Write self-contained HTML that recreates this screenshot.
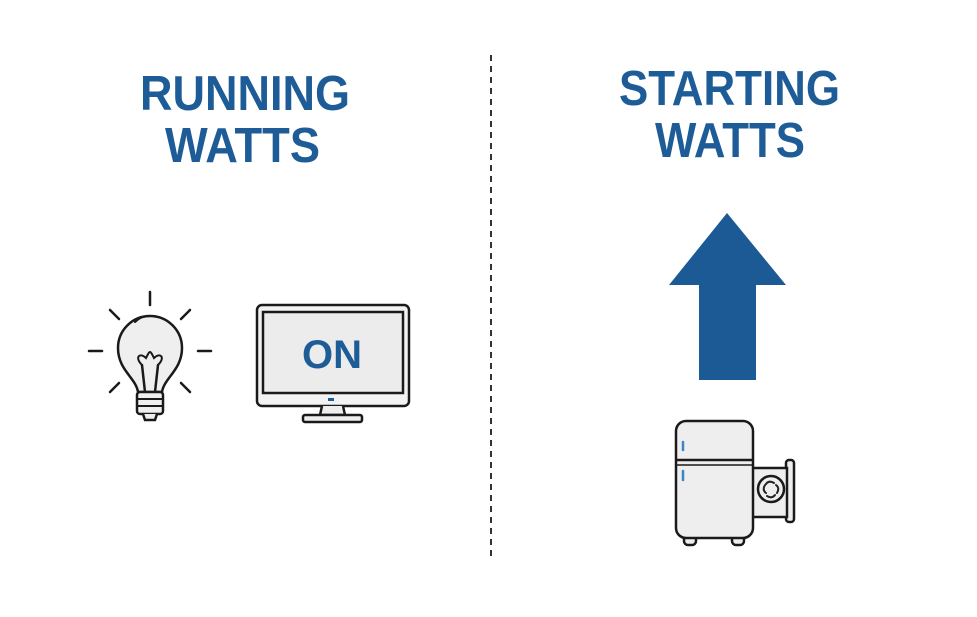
<!DOCTYPE html>
<html><head><style>html,body{margin:0;padding:0;background:#fff;}svg{display:block;}</style></head>
<body>
<svg width="977" height="617" viewBox="0 0 977 617" xmlns="http://www.w3.org/2000/svg">
<rect width="977" height="617" fill="#fff"/>
<g font-family="Liberation Sans, sans-serif" font-weight="bold" fill="#1e5c98" font-size="49">
<text x="140" y="110" textLength="210" lengthAdjust="spacingAndGlyphs">RUNNING</text>
<text x="165" y="162" textLength="155" lengthAdjust="spacingAndGlyphs">WATTS</text>
<text x="619" y="105" textLength="221" lengthAdjust="spacingAndGlyphs">STARTING</text>
<text x="655" y="157" textLength="150" lengthAdjust="spacingAndGlyphs">WATTS</text>
</g>
<line x1="491" y1="55" x2="491" y2="560" stroke="#333" stroke-width="2" stroke-dasharray="6,5"/>
<polygon points="727,213 786,285 756,285 756,380 699,380 699,285 669,285" fill="#1c5a96"/>
<!-- bulb -->
<g stroke="#1a1a1a" stroke-width="2.5" fill="none" stroke-linecap="round">
<line x1="150" y1="292" x2="150" y2="305"/>
<line x1="110" y1="310" x2="119" y2="319"/>
<line x1="190" y1="310" x2="181" y2="319"/>
<line x1="89" y1="351" x2="102" y2="351"/>
<line x1="198" y1="351" x2="211" y2="351"/>
<line x1="110" y1="392" x2="119" y2="383"/>
<line x1="190" y1="392" x2="181" y2="383"/>
<path d="M138,392 C136,378 118,370 118,348 A32,32 0 1 1 182,348 C182,370 164,378 162,392 Z" fill="#efefef"/>
<path d="M145,392 L142,365 M155,392 L158,365"/>
<path d="M142,365 C134,357 140,352 146,358 C150,350 150,350 154,358 C160,352 166,357 158,365" stroke-width="2"/>
<path d="M135,322 A20,20 0 0 1 150,316" stroke-width="2"/>
<rect x="137" y="392" width="26" height="22" rx="3" fill="#efefef"/>
<line x1="137" y1="399" x2="163" y2="399" stroke-width="2"/>
<line x1="137" y1="406" x2="163" y2="406" stroke-width="2"/>
<path d="M143,414 L145,420 L155,420 L157,414" fill="#efefef"/>
</g>
<!-- monitor -->
<g stroke="#1a1a1a" stroke-width="2.5">
<rect x="257" y="305" width="152" height="101" rx="5" fill="#f2f2f2"/>
<rect x="263" y="312" width="140" height="81" fill="#ececec"/>
<path d="M322,406 L320,415 L345,415 L343,406" fill="#eee"/>
<rect x="303" y="415" width="59" height="7" rx="2" fill="#eee"/>
</g>
<rect x="328" y="398" width="6" height="3" fill="#1e5c98"/>
<text x="332" y="368" text-anchor="middle" font-family="Liberation Sans, sans-serif" font-weight="bold" font-size="40" fill="#1e5c98">ON</text>
<!-- fridge -->
<g stroke="#1a1a1a" stroke-width="2.5">
<rect x="684" y="535" width="12" height="10" rx="4" fill="#eee"/>
<rect x="732" y="535" width="12" height="10" rx="4" fill="#eee"/>
<rect x="786" y="460" width="8" height="62" rx="3" fill="#eee"/>
<rect x="752" y="468" width="35" height="49" fill="#eee"/>
<circle cx="771" cy="489" r="13" fill="#eee"/>
<rect x="676" y="421" width="77" height="117" rx="10" fill="#eee"/>
<line x1="676" y1="460" x2="753" y2="460"/>
<line x1="676" y1="465" x2="753" y2="465" stroke-width="1.5"/>
</g>
<g stroke="#222" stroke-width="2" fill="none" stroke-linecap="round">
<path d="M766,484 q3,-4 8,-1 M776,485 q4,3 1,8 M775,495 q-3,4 -8,1 M766,493 q-4,-3 -1,-8"/>
</g>
<g stroke="#3a86c8" stroke-width="2.5" stroke-linecap="round">
<line x1="683" y1="442" x2="683" y2="450"/>
<line x1="683" y1="471" x2="683" y2="480"/>
</g>
</svg>
</body></html>
